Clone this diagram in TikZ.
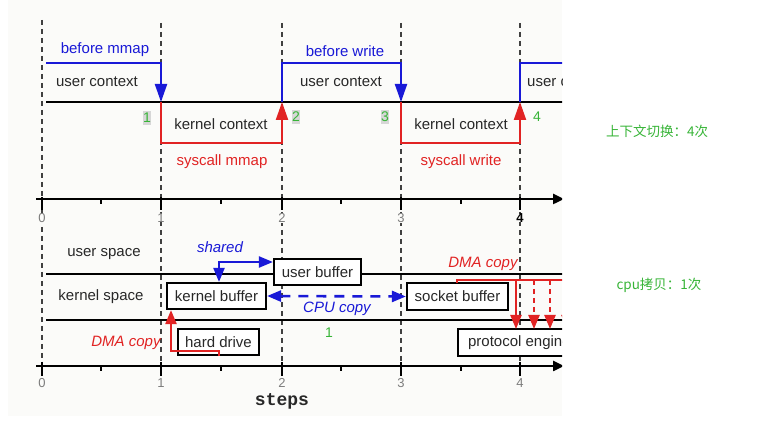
\documentclass[tikz,border=0pt]{standalone}
\usepackage{fontspec}
\setmainfont{Liberation Sans}
\newfontfamily\cjkfont{Noto Sans CJK SC}
\newfontfamily\stepsfont{Liberation Mono}
\usetikzlibrary{arrows.meta}
\definecolor{myblue}{RGB}{25,25,215}
\definecolor{myred}{RGB}{225,35,35}
\definecolor{mygreen}{RGB}{55,180,55}
\definecolor{txt}{RGB}{40,40,40}
\definecolor{bgc}{RGB}{251,251,249}
\definecolor{numbg}{RGB}{215,215,215}
\definecolor{axlab}{RGB}{125,125,125}
\tikzset{
  lbl/.style={font=\fontsize{15}{17}\selectfont, text=txt, inner sep=0pt},
  bluelbl/.style={font=\fontsize{15}{17}\selectfont, text=myblue, inner sep=0pt},
  redlbl/.style={font=\fontsize{15}{17}\selectfont, text=myred, inner sep=0pt},
  itblue/.style={font=\fontsize{15}{17}\selectfont\itshape, text=myblue, inner sep=0pt},
  itred/.style={font=\fontsize{15}{17}\selectfont\itshape, text=myred, inner sep=0pt},
  numlbl/.style={font=\fontsize{14}{16}\selectfont, text=mygreen, inner xsep=0.5pt, inner ysep=2pt},
  numbox/.style={numlbl, fill=numbg},
  axlbl/.style={font=\fontsize{13}{15}\selectfont, text=axlab, inner xsep=1pt, inner ysep=0pt, fill=bgc},
  buf/.style={draw=black, line width=2.2pt, fill=white, font=\fontsize{15}{17}\selectfont, text=txt, inner xsep=0pt, inner ysep=0pt, minimum height=26pt},
  hline/.style={black, line width=2pt},
  vdash/.style={black!75, line width=1.5pt, dash pattern=on 5pt off 4pt},
  axisline/.style={black, line width=2.4pt, -{Triangle[length=11pt,width=10pt]}},
  tick/.style={black, line width=2pt},
  blueline/.style={myblue, line width=2.2pt},
  redline/.style={myred, line width=2.2pt},
  bigtip/.style={-{Triangle[length=18pt,width=12pt]}},
  midtip/.style={-{Triangle[length=14pt,width=11pt]}},
  bothtip/.style={{Triangle[length=14pt,width=11pt]}-{Triangle[length=14pt,width=11pt]}},
  cjk/.style={font=\cjkfont\fontsize{13.5}{16}\selectfont, text=mygreen, inner sep=0pt}
}
\begin{document}
\begin{tikzpicture}[x=1pt,y=-1pt]
\useasboundingbox (0,0) rectangle (766,435);
\begin{scope}
\clip (0,0) rectangle (562,435);
\fill[bgc] (8,0) rectangle (562,416);
% dashed step lines
\foreach \xx/\ys in {42/20,161/23,282/23,401/23,520/23}
  \draw[vdash] (\xx,\ys) -- (\xx,366);
% top timeline
\draw[hline] (46,102) -- (570,102);
\draw[blueline,bigtip] (46,63) -- (161,63) -- (161,102);
\draw[redline,bigtip] (161,102) -- (161,143) -- (282,143) -- (282,102);
\draw[blueline,bigtip] (282,102) -- (282,63) -- (401,63) -- (401,102);
\draw[redline,bigtip] (401,102) -- (401,143) -- (520,143) -- (520,102);
\draw[blueline] (520,102) -- (520,63) -- (570,63);
\node[bluelbl] (bm) at (105,50) {before mmap};
\node[lbl] (uc1) at (97,82) {user context};
\node[lbl] (kc1) at (221,124) {kernel context};
\node[redlbl] (sm) at (222,162) {syscall mmap};
\node[bluelbl] (bw) at (345,51) {before write};
\node[lbl] (uc2) at (341,82) {user context};
\node[lbl] (kc2) at (461,124) {kernel context};
\node[redlbl] (sw) at (461,162) {syscall write};
\node[lbl, anchor=west] (uc3) at (527,82) {user context};
\node[numbox] (n1) at (147,118) {1};
\node[numbox] (n2) at (296,117) {2};
\node[numbox] (n3) at (385,117) {3};
\node[numlbl] (n4) at (537,117) {4};
% top axis
\draw[axisline] (36,199) -- (564,199);
\foreach \xx in {42,161,282,401,520} \draw[tick] (\xx,197) -- (\xx,210);
\foreach \xx in {101,221,341,461} \draw[tick] (\xx,199) -- (\xx,204);
\node[axlbl] (t0) at (42,218) {0};
\node[axlbl] (t1) at (161,218) {1};
\node[axlbl] (t2) at (282,218) {2};
\node[axlbl] (t3) at (401,218) {3};
\node[axlbl, text=black, font=\fontsize{13}{15}\selectfont\bfseries] (t4) at (520,218) {4};
% bottom part
\draw[hline] (46,274) -- (570,274);
\draw[hline] (46,320) -- (570,320);
\node[lbl] (us) at (104,254) {user space};
\node[lbl] (ks) at (101,297) {kernel space};
\node[buf, minimum width=87pt] (ub) at (317.5,272) {user buffer};
\node[buf, minimum width=99pt] (kb) at (216.5,296) {kernel buffer};
\node[buf, minimum width=101pt, minimum height=27pt] (sb) at (457.5,296.5) {socket buffer};
\node[buf, minimum width=81pt] (hd) at (218.5,342) {hard drive};
\node[buf, anchor=west, inner xsep=10pt, minimum height=27pt] (pe) at (457,342.5) {protocol engine};
% shared
\draw[blueline,bothtip] ([xshift=2.5pt]kb.north) |- ([yshift=10pt]ub.west);
\node[itblue] (sh) at (220,247) {shared};
% CPU copy
\draw[myblue, line width=2.6pt, dash pattern=on 10pt off 8pt, bothtip] (kb.east) -- (sb.west);
\node[itblue] (cpu) at (337,309) {CPU copy};
\node[numlbl] (g1) at (329,333) {1};
% DMA copy left
\draw[redline,midtip] ([xshift=0.5pt]hd.south) -- ++(0,-5) -| ([xshift=-45.5pt]kb.south);
\node[itred] (dma1) at (126,343) {DMA copy};
% DMA copy right
\coordinate (dmastart) at (457,283);
\coordinate (dmaend) at (575,280);
\draw[redline] (dmastart) |- (dmaend);
\draw[redline,midtip] (516,280) -- (516,329);
\draw[redline,midtip, dash pattern=on 5pt off 4pt] (534,280) -- (534,329);
\draw[redline,midtip, dash pattern=on 5pt off 4pt] (550,280) -- (550,329);
\draw[redline,midtip, dash pattern=on 5pt off 4pt] (567,280) -- (567,329);
\node[itred] (dma2) at (483,264) {DMA copy};
% bottom axis
\draw[axisline] (36,366) -- (564,366);
\foreach \xx in {42,161,282,401,520} \draw[tick] (\xx,362) -- (\xx,376);
\foreach \xx in {101,221,341,461} \draw[tick] (\xx,366) -- (\xx,371);
\node[axlbl] (b0) at (42,383) {0};
\node[axlbl] (b1) at (161,383) {1};
\node[axlbl] (b2) at (282,383) {2};
\node[axlbl] (b3) at (401,383) {3};
\node[axlbl] (b4) at (520,383) {4};
\node[font=\stepsfont\bfseries\fontsize{18}{20}\selectfont, text=txt, inner sep=0pt] (steps) at (282,401) {steps};
\end{scope}
\node[cjk] (c1) at (657,131) {上下文切换：4次};
\node[cjk] (c2) at (659,285) {cpu拷贝：1次};
\end{tikzpicture}
\end{document}
